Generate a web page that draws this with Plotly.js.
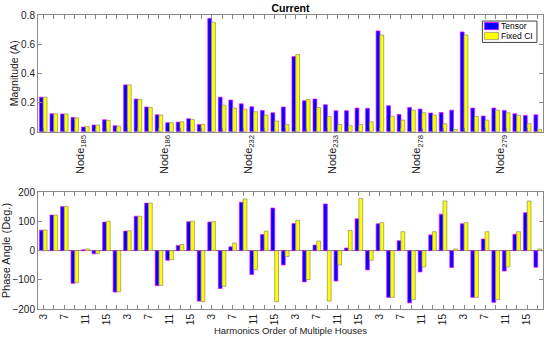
<!DOCTYPE html>
<html>
<head>
<meta charset="utf-8">
<script src="https://cdn.plot.ly/plotly-3.0.1.min.js"></script>
<style>html,body{margin:0;padding:0;background:#fff;}#chart{width:550px;height:337px;}</style>
</head>
<body>
<div id="chart"></div>
<script>
// Nodes and harmonic orders
const nodes = ["185", "186", "232", "233", "278", "279"];
const harmonics = [3, 5, 7, 9, 11, 13, 15, 17];
const harmonicLabels = ["3", "", "7", "", "11", "", "15", ""];
const seriesNames = ["Tensor", "Fixed CI"];

// Magnitude (A), 8 harmonics per node, nodes in order above
const magTensor = [
  0.237, 0.123, 0.122, 0.098, 0.032, 0.046, 0.082, 0.041,
  0.321, 0.224, 0.169, 0.116, 0.062, 0.066, 0.089, 0.050,
  0.777, 0.237, 0.217, 0.191, 0.171, 0.146, 0.130, 0.169,
  0.515, 0.212, 0.224, 0.185, 0.144, 0.144, 0.162, 0.160,
  0.691, 0.178, 0.118, 0.166, 0.155, 0.128, 0.132, 0.148,
  0.684, 0.162, 0.107, 0.162, 0.146, 0.123, 0.112, 0.116
];
const magFixed = [
  0.237, 0.123, 0.122, 0.095, 0.035, 0.046, 0.078, 0.038,
  0.321, 0.222, 0.167, 0.114, 0.062, 0.068, 0.084, 0.050,
  0.750, 0.182, 0.162, 0.155, 0.137, 0.114, 0.073, 0.050,
  0.529, 0.221, 0.166, 0.105, 0.050, 0.041, 0.050, 0.068,
  0.663, 0.105, 0.080, 0.148, 0.130, 0.114, 0.055, 0.016,
  0.663, 0.105, 0.080, 0.148, 0.130, 0.112, 0.055, 0.016
];

// Phase angle (Deg.)
const phaseTensor = [
  70, 122, 151, -112, 3, -11, 98, -142,
  67, 118, 163, -120, -33, 18, 99, -173,
  98, -130, 13, 166, -82, 55, 146, -49,
  93, -107, 19, 160, -104, 9, 109, -66,
  92, -160, 34, -179, -73, 54, 125, -58,
  92, -160, 40, -177, -70, 56, 130, -57
];
const phaseFixed = [
  71, 122, 152, -110, 6, -10, 101, -141,
  68, 118, 163, -119, -31, 21, 101, -175,
  100, -122, 26, 177, -65, 67, -175, -20,
  104, -99, 33, -173, -49, 69, 179, -33,
  96, -160, 65, -168, -56, 65, 170, 6,
  96, -160, 65, -168, -56, 65, 170, 6
];

const nG = nodes.length * harmonics.length;
const xs = [];
for (let i = 0; i < nG; i++) xs.push(i);
const bottomTickText = [];
nodes.forEach(() => harmonicLabels.forEach(t => bottomTickText.push(t)));
const nodeCenters = nodes.map((n, i) => i * harmonics.length + (harmonics.length - 1) / 2);
const nodeText = nodes.map(n => "Node<sub>" + n + "</sub>");

const colors = ["#0000FF", "#FFFF00"];
const edges = ["#FF00FF", "#8C8C6A"];
const FF = "Liberation Sans, Arial, sans-serif";
const font = {family: FF, size: 10, color: "#222"};
const axCol = "#8a8a8a";

const traces = [
  {type: "bar", x: xs, y: magTensor, name: seriesNames[0], xaxis: "x", yaxis: "y",
   marker: {color: colors[0], line: {color: edges[0], width: 0.7}}},
  {type: "bar", x: xs, y: magFixed, name: seriesNames[1], xaxis: "x", yaxis: "y",
   marker: {color: colors[1], line: {color: edges[1], width: 0.7}}},
  {type: "bar", x: xs, y: phaseTensor, name: seriesNames[0], xaxis: "x2", yaxis: "y2",
   marker: {color: colors[0], line: {color: edges[0], width: 0.7}}},
  {type: "bar", x: xs, y: phaseFixed, name: seriesNames[1], xaxis: "x2", yaxis: "y2",
   marker: {color: colors[1], line: {color: edges[1], width: 0.7}}},
  {type: "scatter", x: [0], y: [0], xaxis: "x3", yaxis: "y", mode: "markers",
   marker: {opacity: 0}, hoverinfo: "skip"}
];

const common = {showline: true, linecolor: axCol, linewidth: 1, mirror: "ticks",
  ticks: "inside", tickcolor: axCol, ticklen: 4, showgrid: false, zeroline: false};

// compact boxed legend (top-right of upper panel), MATLAB style
const legShapes = [
  {type: "rect", xref: "x domain", yref: "y domain", x0: 0.88, x1: 0.988, y0: 0.765, y1: 0.948,
   line: {color: "#444", width: 1}, fillcolor: "#fff", layer: "above"}
];
const legAnn = [];
seriesNames.forEach((nm, i) => {
  const yTop = 0.936 - i * 0.085, yBot = yTop - 0.062;
  legShapes.push({type: "rect", xref: "x domain", yref: "y domain", x0: 0.884, x1: 0.912,
    y0: yBot, y1: yTop, fillcolor: colors[i], line: {color: edges[i], width: 0.7}, layer: "above"});
  legAnn.push({xref: "x domain", yref: "y domain", x: 0.913, y: (yTop + yBot) / 2,
    xanchor: "left", yanchor: "middle", text: nm, showarrow: false,
    font: {family: FF, size: 8.5, color: "#000"}});
});

const layout = {
  width: 550, height: 337,
  margin: {l: 38, r: 7, t: 15, b: 28},
  paper_bgcolor: "#fff", plot_bgcolor: "#fff",
  font: font,
  barmode: "group", bargap: 0.28, bargroupgap: 0,
  title: {text: "<b>Current</b>", font: {family: FF, size: 10.5, color: "#000"},
          x: 0.5, xref: "paper", y: 1 - 8 / 337, yref: "container", yanchor: "middle"},
  showlegend: false,
  shapes: legShapes,
  annotations: legAnn,
  xaxis: Object.assign({}, common, {domain: [0, 1], anchor: "y", range: [-0.5, nG - 0.5],
          tickmode: "array", tickvals: xs, ticktext: xs.map(() => ""), showticklabels: false}),
  xaxis3: {overlaying: "x", anchor: "y", range: [-0.5, nG - 0.5], showline: false, showgrid: false,
          zeroline: false, ticks: "", tickmode: "array", tickvals: nodeCenters, ticktext: nodeText,
          tickangle: -90, tickfont: {family: FF, size: 11, color: "#222"}, side: "bottom"},
  yaxis: Object.assign({}, common, {domain: [0.603, 1], anchor: "x", range: [0, 0.8],
          tickvals: [0, 0.2, 0.4, 0.6, 0.8], ticktext: ["0", "0.2", "0.4", "0.6", "0.8"],
          title: {text: "Magnitude (A)", font: {family: FF, size: 10.5, color: "#222"}, standoff: 0}}),
  xaxis2: Object.assign({}, common, {domain: [0, 1], anchor: "y2", range: [-0.5, nG - 0.5],
          tickmode: "array", tickvals: xs, ticktext: bottomTickText, tickangle: -90,
          title: {text: "Harmonics Order of Multiple Houses", font: {family: FF, size: 9.5, color: "#222"}, standoff: 2}}),
  yaxis2: Object.assign({}, common, {domain: [0, 0.397], anchor: "x2", range: [-200, 200],
          tickvals: [-200, -100, 0, 100, 200],
          zeroline: true, zerolinecolor: "#7a7a7a", zerolinewidth: 1,
          title: {text: "Phase Angle (Deg.)", font: {family: FF, size: 11, color: "#222"}, standoff: 0}})
};

Plotly.newPlot("chart", traces, layout, {displayModeBar: false, staticPlot: true});
</script>
</body>
</html>
